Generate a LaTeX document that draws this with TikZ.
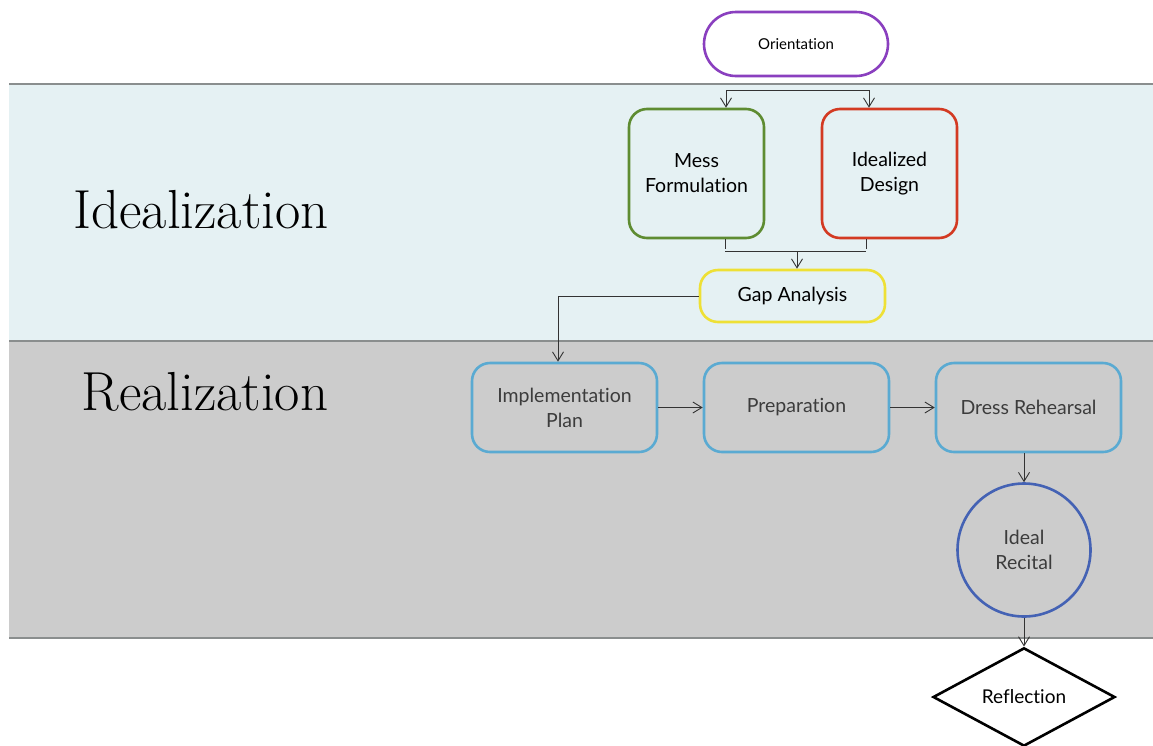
\documentclass[tikz,border=0pt]{standalone}
\usepackage{fontspec}
\setsansfont{Lato}[Ligatures=NoCommon]
\usetikzlibrary{arrows.meta,shapes.geometric}
\definecolor{bandblue}{HTML}{E5F1F3}
\definecolor{bandgray}{HTML}{CCCCCC}
\definecolor{bandline}{HTML}{8A8E8E}
\definecolor{cpurple}{HTML}{8A3FBF}
\definecolor{cgreen}{HTML}{5E8C31}
\definecolor{cred}{HTML}{D33A22}
\definecolor{cyellow}{HTML}{EEE035}
\definecolor{clblue}{HTML}{5AAAD2}
\definecolor{cblue}{HTML}{4462B4}
\definecolor{darktext}{HTML}{3C3C3C}
\definecolor{conn}{HTML}{333333}
\begin{document}
\begin{tikzpicture}[x=1pt,y=-1pt,
  box/.style={draw, line width=2.6pt, rounded corners=18pt, inner sep=0pt, align=center,
    font=\sffamily\fontsize{19.5}{25}\selectfont},
  bluebox/.style={box, draw=clblue, text=darktext, minimum width=185pt, minimum height=89pt},
  arr/.style={draw=conn, line width=0.9pt, -{Straight Barb[length=9pt,width=11pt,line width=0.9pt]}},
  ln/.style={draw=conn, line width=0.9pt},
  bandrule/.style={draw=bandline, line width=2.5pt},
  lane/.style={font=\fontsize{55}{55}\selectfont, text=black}]
\useasboundingbox (0,0) rectangle (1153,745);
\fill[white] (0,0) rectangle (1153,745);
\fill[bandblue] (9,84) rectangle (1153,341);
\fill[bandgray] (9,341) rectangle (1153,638);
\draw[bandrule] (9,84) -- (1153,84);
\draw[bandrule] (9,341) -- (1153,341);
\draw[bandrule] (9,638) -- (1153,638);

\node[lane] (lideal) at (201,210) {Idealization};
\node[lane] (lreal) at (205,392) {Realization};

\node[box, draw=cpurple, fill=white, rounded corners=32pt, minimum width=184pt, minimum height=64pt,
  font=\sffamily\fontsize{15}{18}\selectfont] (orient) at (796,44) {Orientation};
\node[box, draw=cgreen, minimum width=135pt, minimum height=129pt] (mess) at (696.5,173.5) {Mess\\Formulation};
\node[box, draw=cred, minimum width=135pt, minimum height=129pt] (ideal) at (889.5,173.5) {Idealized\\Design};
\node[box, draw=cyellow, minimum width=185pt, minimum height=52pt] (gap) at (792.5,296) {Gap Analysis};
\node[bluebox] (impl) at (564.5,407.5) {Implementation\\Plan};
\node[bluebox] (prep) at (796.5,407.5) {Preparation};
\node[bluebox] (dress) at (1028.5,407.5) {Dress Rehearsal};
\node[circle, draw=cblue, line width=2.6pt, minimum size=133pt, inner sep=0pt, align=center, text=darktext,
  font=\sffamily\fontsize{19.5}{25}\selectfont] (recital) at (1024,550) {Ideal\\Recital};
\node[diamond, draw=black, fill=white, line width=2.6pt, minimum width=182pt, minimum height=96pt, inner sep=0pt,
  font=\sffamily\fontsize{19}{22}\selectfont] (refl) at (1024,697) {Reflection};

% orientation fork
\coordinate (fa) at (726,90);
\coordinate (fb) at (869,90);
\draw[arr] (fb) -- (fa) -- (fa |- mess.north);
\draw[arr] (fb) -- (fb |- ideal.north);

% join into gap analysis
\coordinate (ja) at (725,251);
\coordinate (jb) at (866,251);
\draw[ln] (ja |- mess.south) -- ([yshift=2pt]ja) (ja) -- (jb) ([yshift=2pt]jb) -- (jb |- ideal.south);
\draw[arr] ([xshift=4.5pt]gap.north |- ja) -- ([xshift=4.5pt]gap.north);

% gap to implementation
\draw[arr] (gap.west) -| ([xshift=-6.5pt]impl.north);
\draw[arr] (impl.east) -- (prep.west);
\draw[arr] (prep.east) -- (dress.west);
\draw[arr] (recital.north |- dress.south) -- (recital.north);
\draw[arr] (recital.south) -- (refl.north);
\end{tikzpicture}
\end{document}
